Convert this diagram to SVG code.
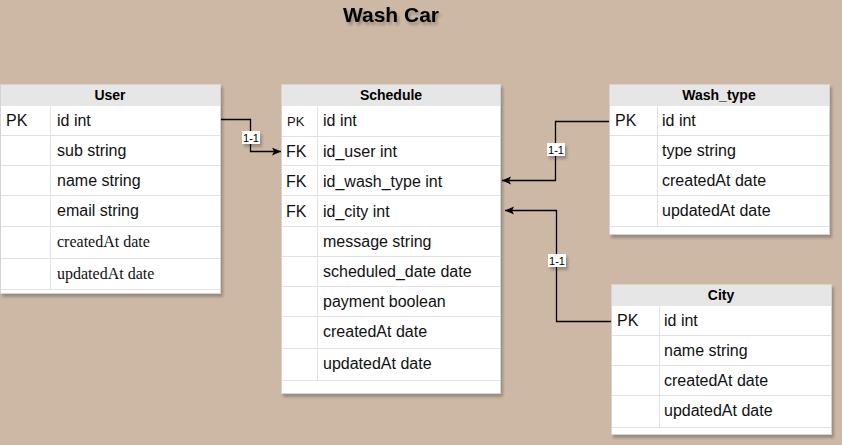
<svg xmlns="http://www.w3.org/2000/svg" width="842" height="445" viewBox="0 0 842 445">
<style>
.hdr{fill:#e6e6e6}
.box{fill:#ffffff;stroke:#d4d4d4;stroke-width:1}
.sep{stroke:#e2e2e2;stroke-width:1;fill:none}
.ht{font-family:"Liberation Sans",Arial,sans-serif;font-size:14px;font-weight:bold;fill:#000;text-anchor:middle}
.t{font-family:"Liberation Sans",Arial,sans-serif;font-size:16px;fill:#111}
.ts{font-family:"Liberation Serif","Times New Roman",serif;font-size:16px;fill:#111}
.pk{font-family:"Liberation Sans",Arial,sans-serif;font-size:13px;fill:#111}
.edge{stroke:#000;stroke-width:1.3;fill:none}
.lbl{font-family:"Liberation Sans",Arial,sans-serif;font-size:11px;fill:#000;text-anchor:middle}
</style>
<defs>
<filter id="sh" x="-10%" y="-10%" width="130%" height="130%">
<feDropShadow dx="2" dy="3" stdDeviation="1.5" flood-color="#000" flood-opacity="0.25"/>
</filter>
<marker id="arr" markerUnits="userSpaceOnUse" markerWidth="12" markerHeight="10" refX="9" refY="4" orient="auto">
<path d="M0,0 L9,4 L0,8 L2,4 Z" fill="#000"/>
</marker>
</defs>
<rect width="842" height="445" fill="#cdb8a5"/>
<text x="391" y="22" font-family="Liberation Sans,Arial,sans-serif" font-size="21" font-weight="bold" text-anchor="middle" fill="#000" filter="url(#sh)">Wash Car</text>

<g id="user">
<g filter="url(#sh)"><rect class="box" x="0.5" y="84.5" width="220" height="209"/></g>
<rect class="hdr" x="1" y="85" width="219" height="21"/>
<text class="ht" x="110" y="100">User</text>
<path class="sep" d="M1,135.5H220M1,165.5H220M1,195.5H220M1,226.5H220M1,258.5H220M1,289.5H220M50.5,106V289"/>
<text class="t" x="6" y="126">PK</text>
<text class="t" x="57" y="126">id int</text>
<text class="t" x="57" y="156">sub string</text>
<text class="t" x="57" y="186">name string</text>
<text class="t" x="57" y="216">email string</text>
<text class="ts" x="57" y="247">createdAt date</text>
<text class="ts" x="57" y="279">updatedAt date</text>
</g>

<g id="schedule">
<g filter="url(#sh)"><rect class="box" x="281.5" y="84.5" width="219" height="309"/></g>
<rect class="hdr" x="282" y="85" width="218" height="21"/>
<text class="ht" x="391" y="100">Schedule</text>
<path class="sep" d="M282,136.5H500M282,165.5H500M282,195.5H500M282,226.5H500M282,256.5H500M282,286.5H500M282,316.5H500M282,348.5H500M282,380.5H500M317.5,106V380"/>
<text class="pk" x="287" y="126">PK</text>
<text class="t" x="286" y="157">FK</text>
<text class="t" x="286" y="187">FK</text>
<text class="t" x="286" y="217">FK</text>
<text class="t" x="323" y="126">id int</text>
<text class="t" x="323" y="157">id_user int</text>
<text class="t" x="323" y="187">id_wash_type int</text>
<text class="t" x="323" y="217">id_city int</text>
<text class="t" x="323" y="247">message string</text>
<text class="t" x="323" y="277">scheduled_date date</text>
<text class="t" x="323" y="307">payment boolean</text>
<text class="t" x="323" y="337">createdAt date</text>
<text class="t" x="323" y="369">updatedAt date</text>
</g>

<g id="wash_type">
<g filter="url(#sh)"><rect class="box" x="609.5" y="84.5" width="220" height="150"/></g>
<rect class="hdr" x="610" y="85" width="219" height="21"/>
<text class="ht" x="719" y="100">Wash_type</text>
<path class="sep" d="M610,135.5H829M610,165.5H829M610,195.5H829M610,226.5H829M657.5,106V226"/>
<text class="t" x="615" y="126">PK</text>
<text class="t" x="662" y="126">id int</text>
<text class="t" x="662" y="156">type string</text>
<text class="t" x="662" y="186">createdAt date</text>
<text class="t" x="662" y="216">updatedAt date</text>
</g>

<g id="city">
<g filter="url(#sh)"><rect class="box" x="611.5" y="284.5" width="220" height="150"/></g>
<rect class="hdr" x="612" y="285" width="219" height="21"/>
<text class="ht" x="721" y="300">City</text>
<path class="sep" d="M612,335.5H831M612,365.5H831M612,395.5H831M612,427.5H831M659.5,306V427"/>
<text class="t" x="617" y="326">PK</text>
<text class="t" x="664" y="326">id int</text>
<text class="t" x="664" y="356">name string</text>
<text class="t" x="664" y="386">createdAt date</text>
<text class="t" x="664" y="416">updatedAt date</text>
</g>

<g id="connectors">
<path class="edge" d="M221,119.5H250.5V151.5H281" marker-end="url(#arr)"/>
<path class="edge" d="M609,121.5H555.5V180.5H502" marker-end="url(#arr)"/>
<path class="edge" d="M611,321.5H556.5V210.5H505" marker-end="url(#arr)"/>
<g filter="url(#sh)">
<rect x="242" y="131" width="18" height="13" fill="#fff"/>
<rect x="547" y="143" width="18" height="13" fill="#fff"/>
<rect x="548" y="254" width="18" height="13" fill="#fff"/>
</g>
<text class="lbl" x="251" y="141.5">1-1</text>
<text class="lbl" x="556" y="153.5">1-1</text>
<text class="lbl" x="557" y="264.5">1-1</text>
</g>
</svg>
